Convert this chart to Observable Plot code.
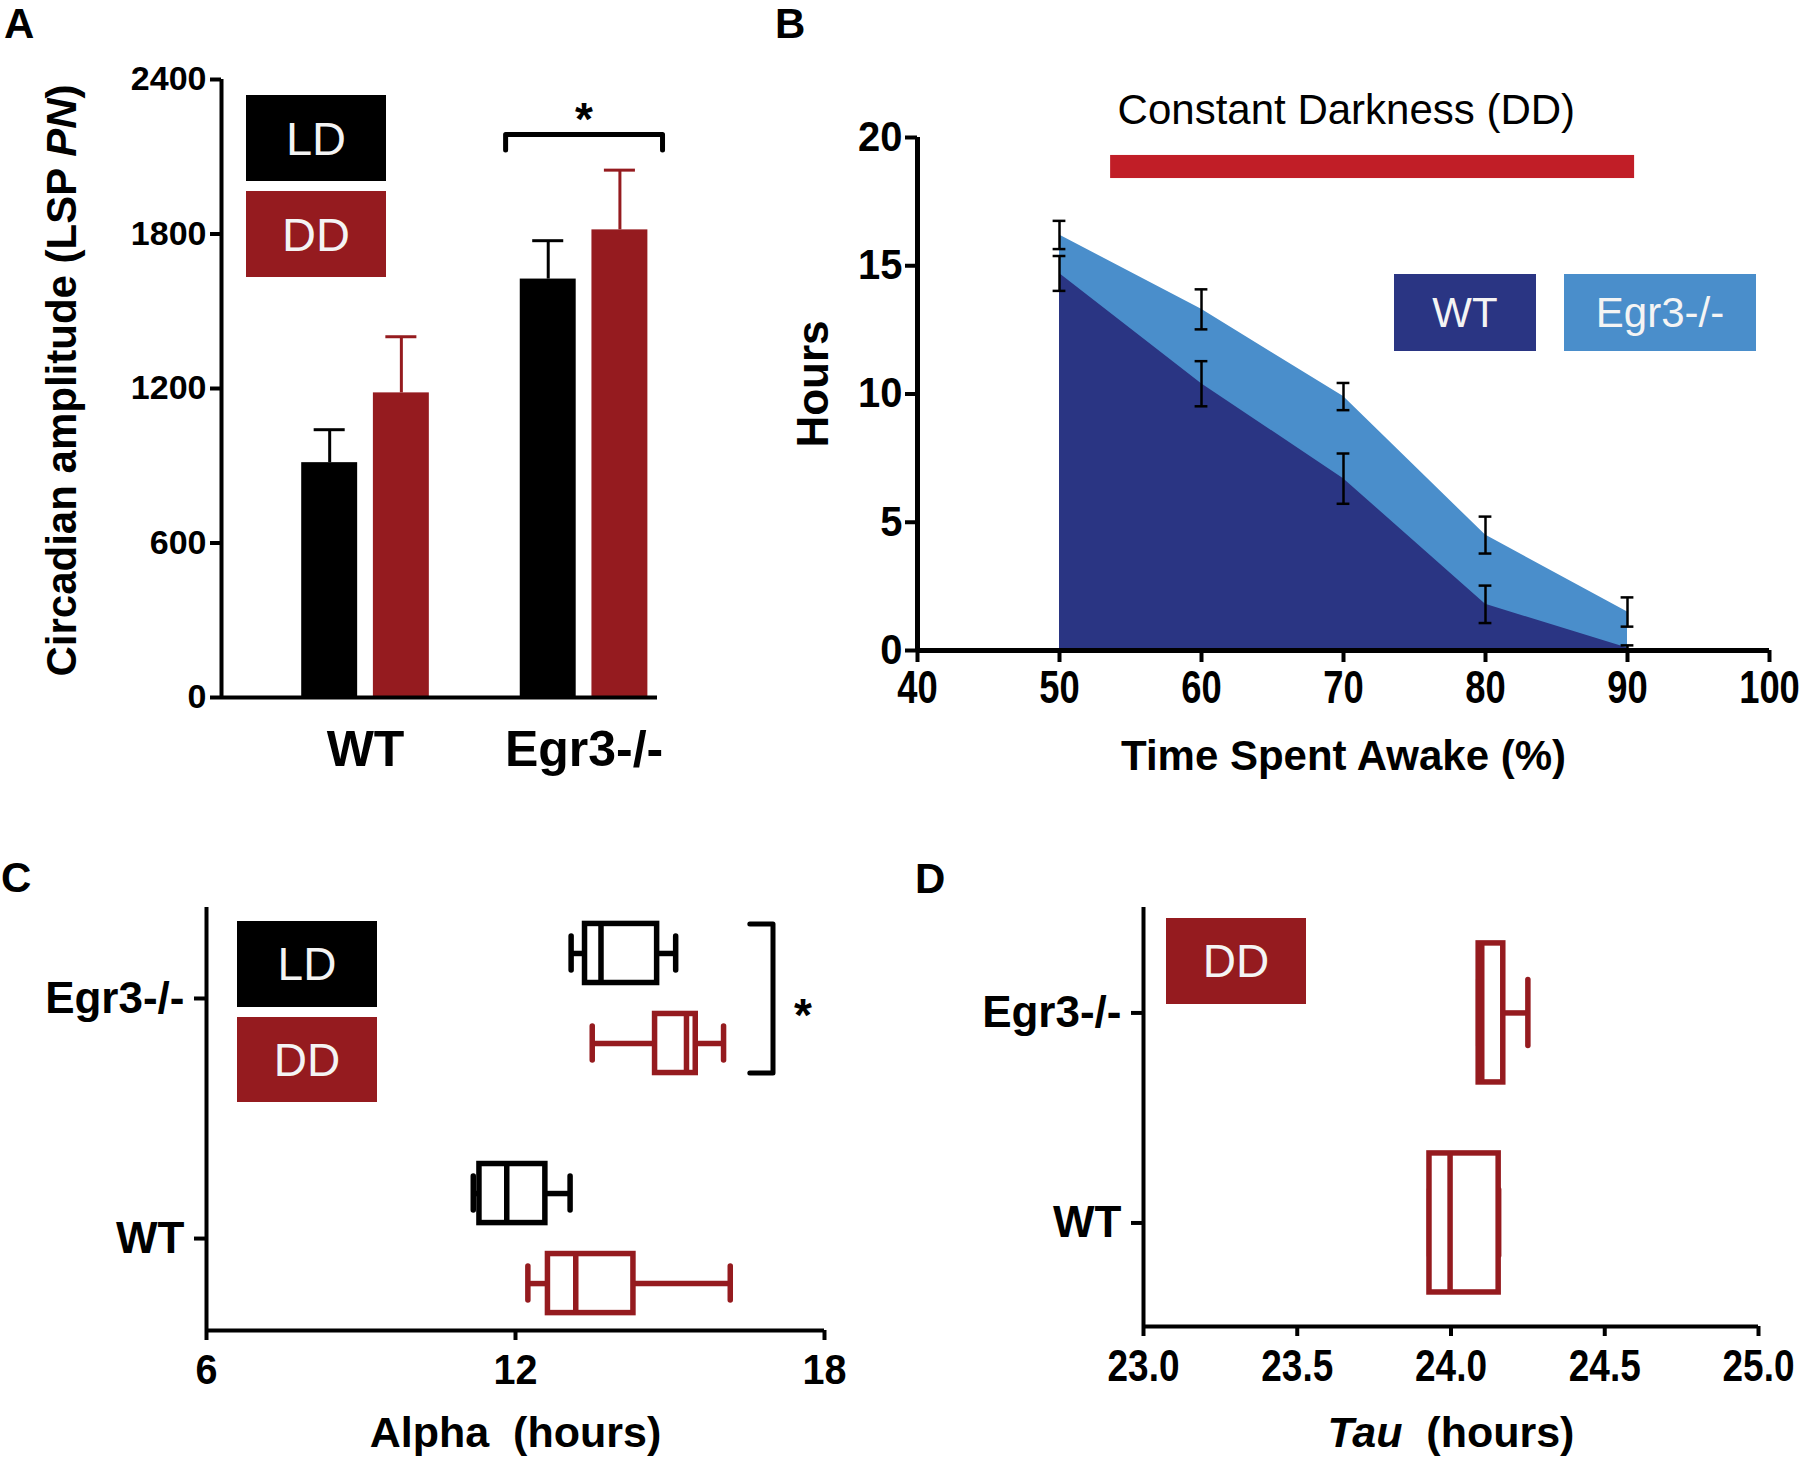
<!DOCTYPE html>
<html><head><meta charset="utf-8">
<script src="https://cdn.jsdelivr.net/npm/d3@7"></script>
<script src="https://cdn.jsdelivr.net/npm/@observablehq/plot@0.6"></script>
<style>
body{margin:0;background:#fff;}
#fig{position:relative;width:1800px;height:1457px;font-family:'Liberation Sans',Arial,Helvetica,sans-serif;overflow:hidden;background:#fff}
#fig svg{position:absolute;left:0;top:0}
.lg{position:absolute;display:flex;align-items:center;justify-content:center;color:#f4f4f4;font-weight:400;line-height:1}
.pl{position:absolute;font-weight:700;font-size:42px;line-height:1;color:#000}
</style></head><body><div id="fig"></div>
<script>
// ---------------- DATA ----------------
// Panel A: circadian amplitude (LSP PN), mean and SEM
const groupsA = ["WT", "Egr3-/-"];
const ampLD = [912, 1625];
const ampDD = [1183, 1816];
const ampErrLD = [128, 149];
const ampErrDD = [218, 232];
const ampTicks = [0, 600, 1200, 1800, 2400];
const sigA = {group: "Egr3-/-", level: 2186, drop: 60, label: "*"};

// Panel B: hours vs time spent awake (%)
const awakePct = [50, 60, 70, 80, 90];
const hoursWT = [14.7, 10.4, 6.7, 1.8, 0.1];
const errWT = [0.68, 0.88, 0.98, 0.73, 0.1];
const hoursEgr3 = [16.2, 13.3, 9.9, 4.5, 1.5];
const errEgr3 = [0.55, 0.78, 0.53, 0.72, 0.57];
const ddSpan = [53.6, 90.5];
const ddBand = [18.4, 19.3];
const pctTicks = [40, 50, 60, 70, 80, 90, 100];
const hourTicks = [0, 5, 10, 15, 20];

// Panel C: alpha (hours) five-number summaries [min, q1, median, q3, max]
const genotypes = ["Egr3-/-", "WT"];
const alphaEgr3LD = [13.08, 13.35, 13.66, 14.75, 15.11];
const alphaEgr3DD = [13.49, 14.71, 15.32, 15.50, 16.04];
const alphaWTLD = [11.18, 11.30, 11.83, 12.58, 13.06];
const alphaWTDD = [12.24, 12.63, 13.17, 14.29, 16.17];
const alphaTicks = [6, 12, 18];

// Panel D: tau (hours), DD only
const tauEgr3DD = [24.09, 24.09, 24.10, 24.17, 24.25];
const tauWTDD = [23.93, 23.93, 23.997, 24.155, 24.155];
const tauTicks = [23.0, 23.5, 24.0, 24.5, 25.0];

// ---------------- STYLE ----------------
const FONT = "'Liberation Sans', Arial, Helvetica, sans-serif";
const BLACK = "#000000", RED = "#951b1f", DDRED = "#c11e27", DARKBLUE = "#2a3583", LIGHTBLUE = "#4a8ecb";
const condColor = {LD: BLACK, DD: RED};
const W = 1800, H = 1457;
const fig = document.getElementById("fig");

function base(frame) {
  return {
    width: W, height: H,
    marginLeft: frame[0], marginTop: frame[1], marginRight: W - frame[2], marginBottom: H - frame[3],
    style: {background: "transparent", fontFamily: FONT, fontWeight: "bold", overflow: "visible"}
  };
}
function italicize(svg, full, part) {
  d3.select(svg).selectAll("text").filter(function() { return this.textContent === full; }).each(function() {
    const t = d3.select(this);
    const [a, b] = full.split(part);
    t.text(null);
    t.append("tspan").text(a);
    t.append("tspan").attr("font-style", "italic").text(part);
    t.append("tspan").text(b);
  });
}
// horizontally condense tick labels (the figure uses a condensed bold face)
function squeeze(svg, aria, sx) {
  d3.select(svg).selectAll(`g[aria-label="${aria}"] text`).each(function() {
    const tr = this.getAttribute("transform") || "";
    this.setAttribute("transform", tr + ` scale(${sx},1)`);
  });
}
function legend(text, left, top, w, h, bg, fs) {
  const d = document.createElement("div");
  d.className = "lg";
  Object.assign(d.style, {left: left + "px", top: top + "px", width: w + "px", height: h + "px", background: bg, fontSize: fs + "px"});
  d.textContent = text;
  fig.appendChild(d);
}
function panelLabel(text, left, top) {
  const d = document.createElement("div");
  d.className = "pl";
  Object.assign(d.style, {left: left + "px", top: top + "px"});
  d.textContent = text;
  fig.appendChild(d);
}

// ---------------- PANEL A ----------------
{
  const rows = [];
  groupsA.forEach((g, gi) => {
    rows.push({group: g, gi, cond: "LD", ci: 0, mean: ampLD[gi], err: ampErrLD[gi]});
    rows.push({group: g, gi, cond: "DD", ci: 1, mean: ampDD[gi], err: ampErrDD[gi]});
  });
  const OFF = 0.164, HALF = 0.128, CAP = 0.071, XD = [-0.659, 1.336];
  const pos = d => d.gi + (d.ci - 0.5) * 2 * OFF;
  const sgi = groupsA.indexOf(sigA.group);
  const bx0 = sgi - OFF - HALF - 0.067, bx1 = sgi + OFF + HALF + 0.067;
  const bracket = [[bx0, sigA.level - sigA.drop], [bx0, sigA.level], [bx1, sigA.level], [bx1, sigA.level - sigA.drop]];
  const svg = Plot.plot({
    ...base([221, 79, 657, 697]),
    x: {domain: XD},
    y: {domain: [ampTicks[0], ampTicks[ampTicks.length - 1]]},
    marks: [
      Plot.rect(rows, {x1: d => pos(d) - HALF, x2: d => pos(d) + HALF, y1: () => 0, y2: "mean", fill: d => condColor[d.cond]}),
      Plot.ruleX(rows, {x: pos, y1: "mean", y2: d => d.mean + d.err, stroke: d => condColor[d.cond], strokeWidth: 3}),
      Plot.ruleY(rows, {y: d => d.mean + d.err, x1: d => pos(d) - CAP, x2: d => pos(d) + CAP, stroke: d => condColor[d.cond], strokeWidth: 3}),
      Plot.line(bracket, {x: d => d[0], y: d => d[1], strokeWidth: 5, strokeLinejoin: "round"}),
      Plot.text([sigA], {x: () => sgi, y: d => d.level, text: d => d.label, dy: -14, fontSize: 46}),
      Plot.ruleX([XD[0]], {strokeWidth: 4}),
      Plot.ruleY([0], {x1: () => XD[0], x2: () => XD[1], strokeWidth: 4}),
      Plot.axisY({ticks: ampTicks, tickFormat: d => String(d), tickSize: 11, tickPadding: 4, fontSize: 34, strokeWidth: 4, label: null}),
      Plot.axisX({ticks: [0, 1], tickFormat: i => groupsA[i], tickSize: 0, tickPadding: 33, fontSize: 50, label: null}),
      Plot.text(["Circadian amplitude (LSP PN)"], {text: d => d, frameAnchor: "left", textAnchor: "middle", rotate: -90, lineAnchor: "top", dx: -175, dy: -8, fontSize: 42})
    ]
  });
  italicize(svg, "Circadian amplitude (LSP PN)", "PN");
  fig.appendChild(svg);
  legend("LD", 246, 95, 140, 86, BLACK, 47);
  legend("DD", 246, 191, 140, 86, RED, 47);
}

// ---------------- PANEL B ----------------
{
  const rWT = awakePct.map((p, i) => ({pct: p, h: hoursWT[i], e: errWT[i]}));
  const rEg = awakePct.map((p, i) => ({pct: p, h: hoursEgr3[i], e: errEgr3[i]}));
  const all = rEg.concat(rWT);
  const CAPB = 0.45;
  const svg = Plot.plot({
    ...base([917, 137, 1769, 650]),
    x: {domain: [pctTicks[0], pctTicks[pctTicks.length - 1]]},
    y: {domain: [hourTicks[0], hourTicks[hourTicks.length - 1]]},
    marks: [
      Plot.rect([ddSpan], {x1: d => d[0], x2: d => d[1], y1: () => ddBand[0], y2: () => ddBand[1], fill: DDRED}),
      Plot.text(["Constant Darkness (DD)"], {text: d => d, x: () => ddSpan[0], frameAnchor: "top", textAnchor: "start", dx: 7, dy: -43, fontSize: 42, fontWeight: "normal"}),
      Plot.area(rEg, {x1: "pct", y1: () => 0, y2: "h", fill: LIGHTBLUE}),
      Plot.area(rWT, {x1: "pct", y1: () => 0, y2: "h", fill: DARKBLUE}),
      Plot.ruleX(all, {x: "pct", y1: d => Math.max(0, d.h - d.e), y2: d => d.h + d.e, strokeWidth: 2.5}),
      Plot.ruleY(all, {y: d => d.h + d.e, x1: d => d.pct - CAPB, x2: d => d.pct + CAPB, strokeWidth: 2.5}),
      Plot.ruleY(all, {y: d => Math.max(0, d.h - d.e), x1: d => d.pct - CAPB, x2: d => d.pct + CAPB, strokeWidth: 2.5}),
      Plot.ruleX([pctTicks[0]], {strokeWidth: 5}),
      Plot.ruleY([0], {strokeWidth: 5}),
      Plot.axisY({ticks: hourTicks, tickSize: 12, tickPadding: 3, fontSize: 42, strokeWidth: 4, label: null}),
      Plot.axisX({ticks: pctTicks, tickSize: 12, tickPadding: 8, fontSize: 46, strokeWidth: 4, label: null}),
      Plot.text(["Hours"], {text: d => d, frameAnchor: "left", textAnchor: "middle", rotate: -90, lineAnchor: "top", dx: -121, dy: -10, fontSize: 44}),
      Plot.text(["Time Spent Awake (%)"], {text: d => d, frameAnchor: "bottom", lineAnchor: "bottom", dy: 119, fontSize: 42})
    ]
  });
  squeeze(svg, "x-axis tick label", 0.79);
  squeeze(svg, "y-axis tick label", 0.95);
  fig.appendChild(svg);
  legend("WT", 1394, 274, 142, 77, DARKBLUE, 42);
  legend("Egr3-/-", 1564, 274, 192, 77, LIGHTBLUE, 42);
}

// box-plot marks helper (horizontal boxes)
function boxMarks(boxes, pos, half, cap, sw) {
  const col = d => condColor[d.cond];
  return [
    Plot.ruleY(boxes, {y: pos, x1: d => d.s[0], x2: d => d.s[1], stroke: col, strokeWidth: sw}),
    Plot.ruleY(boxes, {y: pos, x1: d => d.s[3], x2: d => d.s[4], stroke: col, strokeWidth: sw}),
    Plot.ruleX(boxes, {x: d => d.s[0], y1: d => pos(d) - cap, y2: d => pos(d) + cap, stroke: col, strokeWidth: sw, strokeLinecap: "round"}),
    Plot.ruleX(boxes, {x: d => d.s[4], y1: d => pos(d) - cap, y2: d => pos(d) + cap, stroke: col, strokeWidth: sw, strokeLinecap: "round"}),
    Plot.rect(boxes, {x1: d => d.s[1], x2: d => d.s[3], y1: d => pos(d) - half, y2: d => pos(d) + half, fill: "white", stroke: col, strokeWidth: sw}),
    Plot.ruleX(boxes, {x: d => d.s[2], y1: d => pos(d) - half, y2: d => pos(d) + half, stroke: col, strokeWidth: sw})
  ];
}

// ---------------- PANEL C ----------------
{
  const boxes = [
    {gi: 0, cond: "LD", s: alphaEgr3LD},
    {gi: 0, cond: "DD", s: alphaEgr3DD},
    {gi: 1, cond: "LD", s: alphaWTLD},
    {gi: 1, cond: "DD", s: alphaWTDD}
  ];
  const OFFC = 0.1875, HC = 0.123, CAPC = 0.071, YD = [1.383, -0.379];
  const pos = d => d.gi + (d.cond === "LD" ? -OFFC : OFFC);
  const brX = 17.0, brTick = 0.45;
  const bracket = [[brX - brTick, -OFFC - HC], [brX, -OFFC - HC], [brX, OFFC + HC], [brX - brTick, OFFC + HC]];
  const svg = Plot.plot({
    ...base([206, 907, 824, 1330]),
    x: {domain: [alphaTicks[0], alphaTicks[alphaTicks.length - 1]]},
    y: {domain: YD},
    marks: [
      ...boxMarks(boxes, pos, HC, CAPC, 5.5),
      Plot.line(bracket, {x: d => d[0], y: d => d[1], strokeWidth: 5, strokeLinejoin: "round"}),
      Plot.text(["*"], {text: d => d, x: () => brX, y: () => 0, dx: 30, dy: 18, fontSize: 46}),
      Plot.ruleX([alphaTicks[0]], {strokeWidth: 4}),
      Plot.ruleY([YD[0]], {strokeWidth: 4}),
      Plot.axisY({ticks: [0, 1], tickFormat: i => genotypes[i], tickSize: 12, tickPadding: 10, fontSize: 44, strokeWidth: 4, label: null}),
      Plot.axisX({ticks: alphaTicks, tickSize: 10, tickPadding: 13, fontSize: 43, strokeWidth: 4, label: null}),
      Plot.text(["Alpha\u00a0 (hours)"], {text: d => d, frameAnchor: "bottom", lineAnchor: "bottom", dy: 116, fontSize: 43})
    ]
  });
  squeeze(svg, "x-axis tick label", 0.92);
  fig.appendChild(svg);
  legend("LD", 237, 921, 140, 86, BLACK, 46);
  legend("DD", 237, 1017, 140, 85, RED, 46);
}

// ---------------- PANEL D ----------------
{
  const boxes = [
    {gi: 0, cond: "DD", s: tauEgr3DD},
    {gi: 1, cond: "DD", s: tauWTDD}
  ];
  const HD = 0.331, CAPD = 0.157, YD = [1.493, -0.502];
  const pos = d => d.gi;
  const svg = Plot.plot({
    ...base([1143, 907, 1758, 1326]),
    x: {domain: [tauTicks[0], tauTicks[tauTicks.length - 1]]},
    y: {domain: YD},
    marks: [
      ...boxMarks(boxes, pos, HD, CAPD, 5.5),
      Plot.ruleX([tauTicks[0]], {strokeWidth: 4}),
      Plot.ruleY([YD[0]], {strokeWidth: 4}),
      Plot.axisY({ticks: [0, 1], tickFormat: i => genotypes[i], tickSize: 12, tickPadding: 10, fontSize: 44, strokeWidth: 4, label: null}),
      Plot.axisX({ticks: tauTicks, tickFormat: ".1f", tickSize: 10, tickPadding: 13, fontSize: 44, strokeWidth: 4, label: null}),
      Plot.text(["Tau\u00a0 (hours)"], {text: d => d, frameAnchor: "bottom", lineAnchor: "bottom", dy: 120, fontSize: 43})
    ]
  });
  italicize(svg, "Tau\u00a0 (hours)", "Tau");
  squeeze(svg, "x-axis tick label", 0.84);
  fig.appendChild(svg);
  legend("DD", 1166, 918, 140, 86, RED, 46);
}

panelLabel("A", 4, 3);
panelLabel("B", 775, 3);
panelLabel("C", 1, 857);
panelLabel("D", 915, 858);
</script></body></html>
